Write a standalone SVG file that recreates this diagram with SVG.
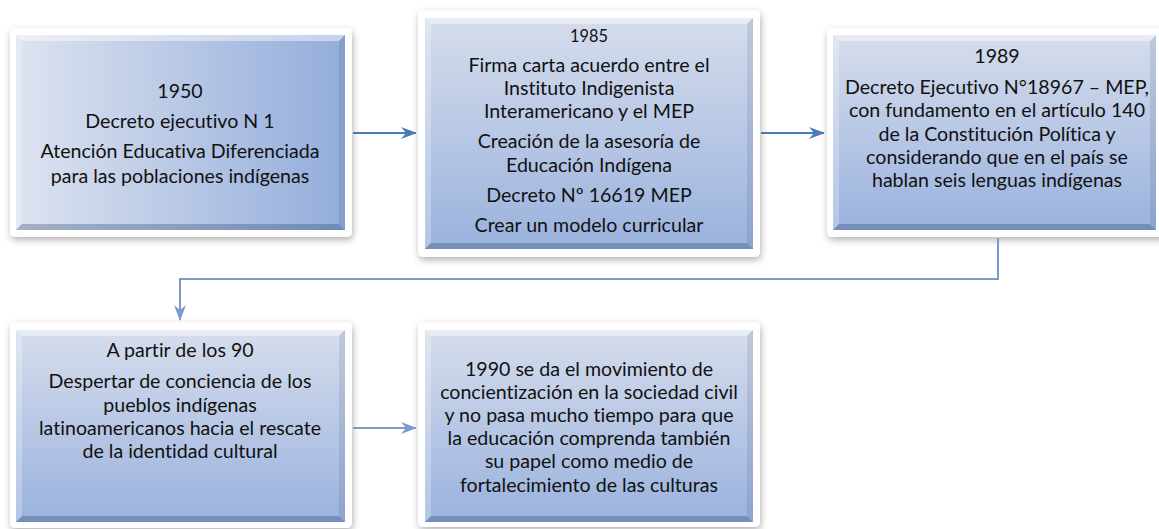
<svg xmlns="http://www.w3.org/2000/svg" width="1159" height="529" viewBox="0 0 1159 529">
<defs>
<linearGradient id="gh" x1="0" y1="0" x2="1" y2="0">
<stop offset="0" stop-color="#dde3ef"/>
<stop offset="1" stop-color="#93addb"/>
</linearGradient>
<linearGradient id="gv" x1="0" y1="0" x2="0" y2="1">
<stop offset="0" stop-color="#d6ddec"/>
<stop offset="1" stop-color="#9ab2de"/>
</linearGradient>
<filter id="sh" x="-10%" y="-10%" width="120%" height="130%">
<feDropShadow dx="1" dy="3" stdDeviation="3.5" flood-color="#000" flood-opacity="0.3"/>
</filter>
<marker id="ah" viewBox="0 0 16 12" refX="15" refY="6" markerWidth="16" markerHeight="12" markerUnits="userSpaceOnUse" orient="auto">
<path d="M0,0 L16,6 L0,12 L5,6 Z" fill="#4a7ab8"/>
</marker>
<marker id="ah2" viewBox="0 0 16 12" refX="15" refY="6" markerWidth="16" markerHeight="12" markerUnits="userSpaceOnUse" orient="auto">
<path d="M0,0 L16,6 L0,12 L5,6 Z" fill="#7b9bcc"/>
</marker>
</defs>
<style>
.frame{fill:#ffffff;filter:url(#sh);}
.hl{fill:#ffffff;fill-opacity:0.45;}
.hl2{fill:#ffffff;fill-opacity:0.25;}
.dk{fill:#1f3a66;fill-opacity:0.12;}
.dk2{fill:#1f3a66;fill-opacity:0.3;}
text{font-family:Lato,"Open Sans","Liberation Sans",sans-serif;font-size:19.6px;fill:#111;text-anchor:middle;font-variant-ligatures:none;font-feature-settings:"liga" 0,"dlig" 0;}
.sm{font-size:16.3px;}
.c1{stroke:#4a7ab8;stroke-width:2;fill:none;}
.c2{stroke:#7b9bcc;stroke-width:2;fill:none;}
</style>
<rect width="1159" height="529" fill="#ffffff"/>

<g id="node1">
<rect class="frame" x="10" y="28" width="342" height="209" rx="5"/>
<rect x="16" y="35" width="329" height="195" fill="url(#gh)"/>
<polygon class="hl" points="16,35 345,35 339,41 22,41"/>
<polygon class="hl2" points="16,35 22,41 22,224 16,230"/>
<polygon class="dk" points="345,35 345,230 339,224 339,41"/>
<polygon class="dk2" points="16,230 345,230 339,224 22,224"/>
<text x="180" y="98">1950</text>
<text x="180" y="128">Decreto ejecutivo N 1</text>
<text x="180" y="158">Atención Educativa Diferenciada</text>
<text x="180" y="183">para las poblaciones indígenas</text>
</g>

<g id="node2">
<rect class="frame" x="418" y="10" width="342" height="247" rx="5"/>
<rect x="425" y="18" width="328" height="231" fill="url(#gv)"/>
<polygon class="hl" points="425,18 753,18 747,24 431,24"/>
<polygon class="hl2" points="425,18 431,24 431,243 425,249"/>
<polygon class="dk" points="753,18 753,249 747,243 747,24"/>
<polygon class="dk2" points="425,249 753,249 747,243 431,243"/>
<text class="sm" x="589" y="42">1985</text>
<text x="589" y="72">Firma carta acuerdo entre el</text>
<text x="589" y="95">Instituto Indigenista</text>
<text x="589" y="118">Interamericano y el MEP</text>
<text x="589" y="148">Creación de la asesoría de</text>
<text x="589" y="172">Educación Indígena</text>
<text x="589" y="202">Decreto Nº 16619 MEP</text>
<text x="589" y="232">Crear un modelo curricular</text>
</g>

<g id="node3">
<rect class="frame" x="827" y="28" width="340" height="209" rx="5"/>
<rect x="833" y="35" width="323" height="195" fill="url(#gv)"/>
<polygon class="hl" points="833,35 1156,35 1150,41 839,41"/>
<polygon class="hl2" points="833,35 839,41 839,224 833,230"/>
<polygon class="dk" points="1156,35 1156,230 1150,224 1150,41"/>
<polygon class="dk2" points="833,230 1156,230 1150,224 839,224"/>
<text x="997" y="63">1989</text>
<text x="997" y="94">Decreto Ejecutivo N°18967 – MEP,</text>
<text x="997" y="117">con fundamento en el artículo 140</text>
<text x="997" y="141">de la Constitución Política y</text>
<text x="997" y="164">considerando que en el país se</text>
<text x="997" y="187">hablan seis lenguas indígenas</text>
</g>

<g id="node4">
<rect class="frame" x="10" y="322" width="342" height="206" rx="5"/>
<rect x="16" y="330" width="329" height="192" fill="url(#gv)"/>
<polygon class="hl" points="16,330 345,330 339,336 22,336"/>
<polygon class="hl2" points="16,330 22,336 22,516 16,522"/>
<polygon class="dk" points="345,330 345,522 339,516 339,336"/>
<polygon class="dk2" points="16,522 345,522 339,516 22,516"/>
<text x="180" y="357">A partir de los 90</text>
<text x="180" y="388">Despertar de conciencia de los</text>
<text x="180" y="412">pueblos indígenas</text>
<text x="180" y="435">latinoamericanos hacia el rescate</text>
<text x="180" y="458">de la identidad cultural</text>
</g>

<g id="node5">
<rect class="frame" x="418" y="322" width="342" height="205" rx="5"/>
<rect x="425" y="330" width="328" height="192" fill="url(#gv)"/>
<polygon class="hl" points="425,330 753,330 747,336 431,336"/>
<polygon class="hl2" points="425,330 431,336 431,516 425,522"/>
<polygon class="dk" points="753,330 753,522 747,516 747,336"/>
<polygon class="dk2" points="425,522 753,522 747,516 431,516"/>
<text x="589" y="376">1990 se da el movimiento de</text>
<text x="589" y="399">concientización en la sociedad civil</text>
<text x="589" y="422">y no pasa mucho tiempo para que</text>
<text x="589" y="445">la educación comprenda también</text>
<text x="589" y="468">su papel como medio de</text>
<text x="589" y="492">fortalecimiento de las culturas</text>
</g>

<g id="connectors">
<line class="c1" x1="353" y1="133" x2="416" y2="133" marker-end="url(#ah)"/>
<line class="c1" x1="761" y1="133" x2="824" y2="133" marker-end="url(#ah)"/>
<polyline class="c2" points="998,238 998,279 180,279 180,320" marker-end="url(#ah2)"/>
<line class="c2" x1="353" y1="428" x2="416" y2="428" marker-end="url(#ah2)"/>
</g>
</svg>
